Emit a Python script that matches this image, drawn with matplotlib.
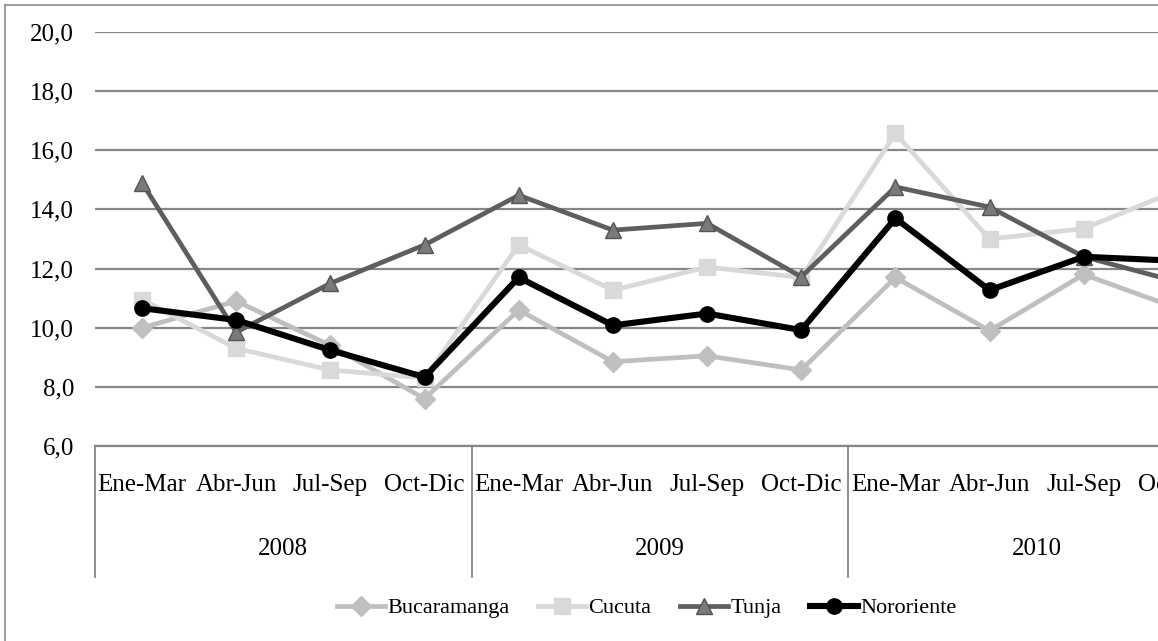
import numpy as np
import matplotlib.pyplot as plt
from matplotlib.lines import Line2D
from matplotlib.transforms import blended_transform_factory

plt.rcParams['font.family'] = ['Liberation Serif', 'DejaVu Serif']

trimestres = ['Ene-Mar', 'Abr-Jun', 'Jul-Sep', 'Oct-Dic'] * 3
years = ['2008', '2009', '2010']

bucaramanga = [10.0, 10.9, 9.4, 7.6, 10.6, 8.85, 9.05, 8.57, 11.7, 9.9, 11.8, 10.65]
cucuta = [10.95, 9.3, 8.57, 8.3, 12.8, 11.27, 12.05, 11.7, 16.57, 13.0, 13.35, 14.65]
tunja = [14.9, 9.85, 11.5, 12.8, 14.48, 13.3, 13.53, 11.72, 14.76, 14.08, 12.4, 11.55]
nororiente = [10.66, 10.26, 9.24, 8.33, 11.7, 10.08, 10.48, 9.92, 13.7, 11.27, 12.4, 12.26]

W, H = 1158, 641
fs = 18
fig = plt.figure(figsize=(W / 100, H / 100), dpi=100)
# plot area runs past the right edge (the original is cropped)
ax = fig.add_axes([95 / W, (H - 446) / H, (1225 - 95) / W, (446 - 32) / H])

x = np.arange(len(trimestres))
ax.plot(x, bucaramanga, color='#bfbfbf', lw=3.4, marker='D', ms=10, mfc='#bfbfbf', mec='#bfbfbf',
        label='Bucaramanga', zorder=3)
ax.plot(x, cucuta, color='#d9d9d9', lw=3.4, marker='s', ms=11, mfc='#d9d9d9', mec='#d9d9d9',
        label='Cucuta', zorder=3)
ax.plot(x, tunja, color='#5e5e5e', lw=3.4, marker='^', ms=12, mfc='#7a7a7a', mec='#555555',
        label='Tunja', zorder=4)
ax.plot(x, nororiente, color='black', lw=4.4, marker='o', ms=11, mfc='black', mec='black',
        label='Nororiente', zorder=5)

ax.set_xlim(-0.5, 11.5)
ax.set_ylim(6, 20)
ax.set_yticks(np.arange(6, 21, 2))
ax.set_yticklabels([f'{v:.1f}'.replace('.', ',') for v in np.arange(6, 21, 2)], fontsize=fs)
ax.yaxis.grid(True, color='#868686', lw=1.6)
ax.set_axisbelow(True)
ax.tick_params(axis='y', length=0, pad=15)
ax.tick_params(axis='x', length=0, labelbottom=False)
for s in ['left', 'right', 'top']:
    ax.spines[s].set_visible(False)
ax.spines['bottom'].set_color('#868686')
ax.spines['bottom'].set_linewidth(1.6)

trans = blended_transform_factory(ax.transData, ax.transAxes)
for i, lab in enumerate(trimestres):
    ax.text(i, -0.094, lab, transform=trans, ha='center', va='center', fontsize=fs, clip_on=False)
for j, yr in enumerate(years):
    ax.text(j * 4 + 1.5, -0.248, yr, transform=trans, ha='center', va='center', fontsize=fs)
for b in [-0.5, 3.5, 7.5, 11.5]:
    ax.add_line(Line2D([b, b], [0, -0.316], transform=trans, color='#868686', lw=1.3, clip_on=False))

# outer chart border
fig.add_artist(Line2D([5 / W, 1], [1 - 5 / H, 1 - 5 / H], color='#8c8c8c', lw=1.2))
fig.add_artist(Line2D([5 / W, 5 / W], [0, 1 - 5 / H], color='#8c8c8c', lw=1.2))

fig.legend(loc='center', bbox_to_anchor=(647 / W, 1 - 608 / H), ncol=4, frameon=False,
           fontsize=16, handlelength=2.15, handletextpad=0.1, columnspacing=1.3)

fig.savefig('out.png', dpi=100)
